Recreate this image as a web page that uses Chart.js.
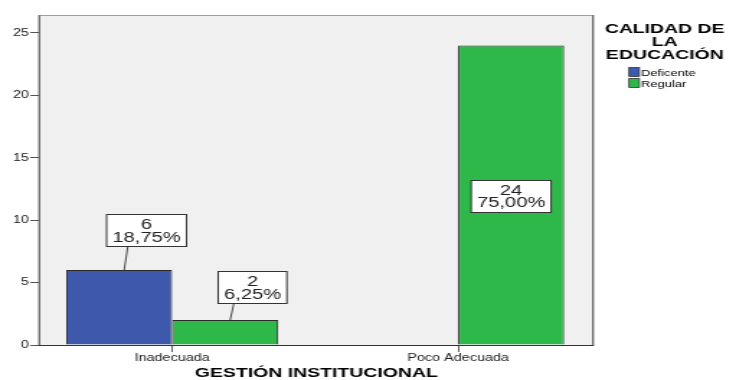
<!DOCTYPE html>
<html><head><meta charset="utf-8">
<script src="https://cdn.jsdelivr.net/npm/chart.js@4"></script>
<style>html,body{margin:0;padding:0;background:#fff;overflow:hidden}#c{display:block;width:736px;height:380px}</style>
</head><body><canvas id="c" width="511" height="380" style="width:736px;height:380px"></canvas>
<script>
const categories = ["Inadecuada", "Poco Adecuada"];
const seriesNames = ["Deficente", "Regular"];
const deficienteValues = [6, 0];
const regularValues = [2, 24];
const deficientePct = ["18,75%", ""];
const regularPct = ["6,25%", "75,00%"];
const yTicks = [0, 5, 10, 15, 20, 25];
const legendTitle = ["CALIDAD DE", "LA", "EDUCACIÓN"];
const xTitle = "GESTIÓN INSTITUCIONAL";

const FONT = "'Liberation Sans', Arial, sans-serif";
// canvas is drawn 511px wide and stretched to 736px (reference is horizontally stretched)

const frame = {
  id: 'frame',
  beforeDatasetsDraw(chart) {
    const {ctx, chartArea: a} = chart;
    ctx.save();
    ctx.fillStyle = '#f0f0f0';
    ctx.fillRect(a.left, a.top, a.right - a.left, a.bottom - a.top);
    ctx.restore();
  },
  afterDatasetsDraw(chart) {
    const {ctx, chartArea: a} = chart;
    ctx.save();
    ctx.strokeStyle = '#a0a0a0';
    ctx.lineWidth = 1;
    ctx.beginPath(); ctx.moveTo(a.left, a.top - 0.5); ctx.lineTo(a.right, a.top - 0.5); ctx.stroke();
    ctx.strokeStyle = '#6a6a6a';
    ctx.lineWidth = 1.4;
    ctx.beginPath(); ctx.moveTo(a.left - 0.7, a.top - 1); ctx.lineTo(a.left - 0.7, a.bottom); ctx.stroke();
    ctx.beginPath(); ctx.moveTo(a.right + 0.7, a.top - 1); ctx.lineTo(a.right + 0.7, a.bottom); ctx.stroke();
    ctx.strokeStyle = '#333';
    ctx.lineWidth = 1;
    ctx.beginPath(); ctx.moveTo(a.left - 1.4, a.bottom + 0.5); ctx.lineTo(a.right + 1.4, a.bottom + 0.5); ctx.stroke();
    ctx.restore();
  }
};

const labelGaps = [24, 17];
const labelsPlugin = {
  id: 'boxLabels',
  afterDatasetsDraw(chart) {
    const {ctx} = chart;
    const pcts = [deficientePct, regularPct];
    ctx.save();
    ctx.font = "14px " + FONT;
    ctx.textAlign = 'center';
    ctx.textBaseline = 'alphabetic';
    let k = 0;
    chart.data.datasets.forEach((ds, di) => {
      const meta = chart.getDatasetMeta(di);
      meta.data.forEach((bar, i) => {
        const v = ds.data[i].y;
        if (!v) return;
        const l1 = String(v), l2 = pcts[di][i];
        const w = Math.max(ctx.measureText(l1).width, ctx.measureText(l2).width) + 8;
        const h = 32;
        const inside = v > 12;
        let cx, cy;
        if (inside) { cx = bar.x; cy = (bar.y + bar.base) / 2 + 1; }
        else { cx = bar.x + 19; cy = bar.y - labelGaps[k++] - h / 2; }
        const bx = cx - w / 2, by = Math.round(cy - h / 2) + 0.5;
        if (!inside) {
          ctx.strokeStyle = '#333'; ctx.lineWidth = 0.9;
          ctx.beginPath(); ctx.moveTo(cx - 13, by + h); ctx.lineTo(bar.x + 3.5, bar.y); ctx.stroke();
        }
        ctx.fillStyle = '#fff';
        ctx.fillRect(bx, by, w, h);
        ctx.strokeStyle = '#333'; ctx.lineWidth = 1;
        ctx.strokeRect(bx, by, w, h);
        ctx.fillStyle = '#222';
        ctx.fillText(l1, cx, cy - 1);
        ctx.fillText(l2, cx, cy + 11.5);
      });
    });
    ctx.restore();
  }
};

const legendPlugin = {
  id: 'customLegend',
  afterDraw(chart) {
    const {ctx} = chart;
    ctx.save();
    ctx.fillStyle = '#000';
    ctx.font = "bold 13.5px " + FONT;
    ctx.textAlign = 'center';
    ctx.textBaseline = 'alphabetic';
    legendTitle.forEach((t, i) => ctx.fillText(t, 461.5, 33 + i * 12.8));
    ctx.font = "9px " + FONT;
    ctx.textAlign = 'left';
    chart.data.datasets.forEach((ds, i) => {
      const y = 72 + i * 11;
      ctx.fillStyle = ds.backgroundColor;
      ctx.fillRect(436.7, y - 4.5, 7.2, 9);
      ctx.strokeStyle = '#333'; ctx.lineWidth = 0.8;
      ctx.strokeRect(436.7, y - 4.5, 7.2, 9);
      ctx.fillStyle = '#000';
      ctx.fillText(ds.label, 445, y + 3.5);
    });
    ctx.restore();
  }
};

new Chart(document.getElementById('c'), {
  type: 'bar',
  data: {
    datasets: [
      { label: seriesNames[0], data: deficienteValues.map((v, i) => ({x: i, y: v})),
        backgroundColor: '#3e58ac', borderColor: '#2a2a2a', borderWidth: 1, borderSkipped: 'bottom' },
      { label: seriesNames[1], data: regularValues.map((v, i) => ({x: i, y: v})),
        backgroundColor: '#2eb84a', borderColor: '#2a2a2a', borderWidth: 1, borderSkipped: 'bottom' }
    ]
  },
  options: {
    responsive: false,
    animation: false,
    devicePixelRatio: 1,
    layout: { padding: { left: 0, top: 16, right: 100, bottom: 0 } },
    categoryPercentage: 212 / 286,
    barPercentage: 1,
    plugins: { legend: { display: false }, tooltip: { enabled: false } },
    scales: {
      x: {
        type: 'linear', min: -0.461, max: 1.468, offset: false,
        afterBuildTicks: s => { s.ticks = categories.map((c, i) => ({value: i})); },
        afterFit: s => { s.height = 35; },
        grid: { display: true, drawOnChartArea: false, tickLength: 7, color: '#333', lineWidth: 0.8, offset: false },
        border: { display: false },
        ticks: { callback: v => categories[v], font: { family: FONT, size: 10 }, color: '#222', padding: 0, maxRotation: 0, autoSkip: false },
        title: { display: true, text: xTitle, font: { family: FONT, size: 13.5, weight: 'bold', lineHeight: 1 }, color: '#000', padding: { top: 0, bottom: 0 } }
      },
      y: {
        min: 0, max: 26.36,
        afterBuildTicks: s => { s.ticks = yTicks.map(v => ({value: v})); },
        afterFit: s => { s.width = 28; },
        grid: { display: true, drawOnChartArea: false, tickLength: 7, color: '#555', lineWidth: 1 },
        border: { display: false },
        ticks: { font: { family: FONT, size: 10 }, color: '#222', padding: 1 }
      }
    }
  },
  plugins: [frame, labelsPlugin, legendPlugin]
});
</script>
</body></html>
